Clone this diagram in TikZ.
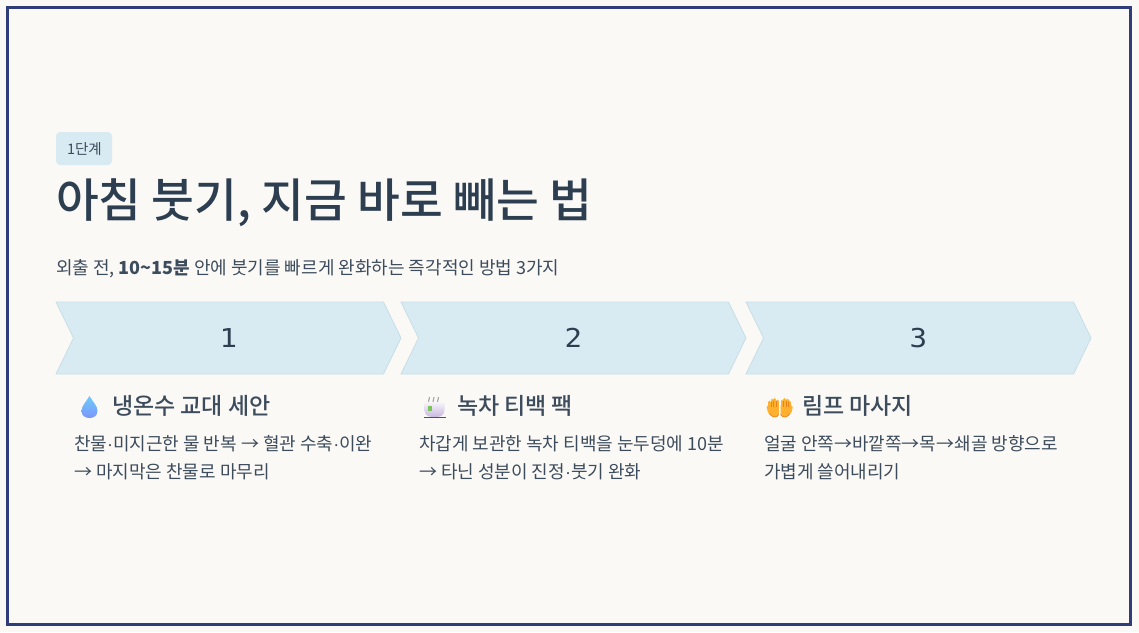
\documentclass[tikz,border=0pt]{standalone}
\usepackage{fontspec}
\setmainfont{Noto Sans CJK KR}
\newfontfamily\medfont{Noto Sans CJK KR Medium}
\newfontfamily\numfont[FakeStretch=1.12]{DejaVu Sans Mono}
\newfontfamily\dotfont{Liberation Sans}
\newcommand{\dt}{{\dotfont ·}}
\definecolor{pagebg}{HTML}{FBF9F6}
\definecolor{frameblue}{HTML}{2F3E78}
\definecolor{ink}{HTML}{2C3E50}
\definecolor{softink}{HTML}{3D4C5C}
\definecolor{paleblue}{HTML}{D9EBF2}
\definecolor{edgeblue}{HTML}{C6DEE6}
\definecolor{droptop}{HTML}{6CCBFA}
\definecolor{dropbot}{HTML}{7C96FB}
\definecolor{cuptop}{HTML}{F6F3FA}
\definecolor{cupbot}{HTML}{C9B8E0}
\definecolor{tagcol}{HTML}{7CC35C}
\definecolor{handfill}{HTML}{FFB02E}
\definecolor{handedge}{HTML}{E8841A}
\tikzset{
  txt/.style={anchor=base west,inner sep=0pt,outer sep=0pt,text=softink},
  chev/.style={fill=paleblue,draw=edgeblue,line width=0.8pt,line join=miter},
  numlabel/.style={anchor=center,inner sep=0pt,text=ink,font=\numfont\fontsize{26}{27}\selectfont},
  heading/.style={txt,text=softink,font=\fontsize{23}{27}\medfont\selectfont},
  desc/.style={txt,font=\fontsize{18}{22}\selectfont},
}
\begin{document}
\begin{tikzpicture}[x=1pt,y=-1pt]
\useasboundingbox (0,0) rectangle (1139,632);
\fill[pagebg] (0,0) rectangle (1139,632);
\draw[frameblue,line width=3pt] (7.5,7.5) rectangle (1130.5,624.5);
% badge
\fill[paleblue,rounded corners=4pt] (56,132) rectangle (112,165);
\node[txt,font=\fontsize{14.5}{17}\selectfont] (badge) at (67,154) {1단계};
\node[txt,text=ink,font=\fontsize{46.5}{52}\medfont\selectfont] (title) at (56,217.5) {아침 붓기, 지금 바로 빼는 법};
\node[txt,font=\fontsize{18}{22}\selectfont] (sub) at (56,274) {외출 전, \textbf{10\textasciitilde15분} 안에 붓기를 빠르게 완화하는 즉각적인 방법 3가지};
% chevrons
\draw[chev] (56,302) -- (383.5,302) -- (401,338) -- (383.5,374) -- (56,374) -- (73.5,338) -- cycle;
\draw[chev] (401,302) -- (728.5,302) -- (746,338) -- (728.5,374) -- (401,374) -- (418.5,338) -- cycle;
\draw[chev] (746,302) -- (1073.5,302) -- (1091,338) -- (1073.5,374) -- (746,374) -- (763.5,338) -- cycle;
\node[numlabel] (n1) at (228.5,338) {1};
\node[numlabel] (n2) at (573.5,338) {2};
\node[numlabel] (n3) at (918.5,338) {3};
% drop icon
\shade[top color=droptop,bottom color=dropbot]
  (89.5,396) .. controls (86,402) and (81.5,406) .. (81.5,411) .. controls (81.5,415.5) and (85,418) .. (89.5,418) .. controls (94,418) and (97.5,415.5) .. (97.5,411) .. controls (97.5,406) and (93,402) .. (89.5,396) -- cycle;
% tea icon
\fill[brown!60!black] (423.5,416.8) rectangle (446,418);
\shade[top color=cuptop,bottom color=cupbot] (424.5,402.5) -- (444.5,402.5) -- (444.5,410) .. controls (444.5,414.5) and (441,416.8) .. (438,416.8) -- (431,416.8) .. controls (428,416.8) and (424.5,414.5) .. (424.5,410) -- cycle;
\fill[tagcol] (427.5,406) rectangle (432,411);
\draw[gray!70,line width=1.1pt] (429.5,397) -- (428.5,402) (434,397) -- (433,402) (438.5,397) -- (437.5,402);
% hands icon
\foreach \sx in {1,-1}{
\begin{scope}[shift={(779.7,0)},xscale=\sx]
\draw[handfill,line width=2.9pt,line cap=round] (2.3,408) -- (2.3,401) (5,408) -- (5,399.5) (7.7,408) -- (7.7,400) (10.2,408) -- (10.2,402);
\fill[handfill] (0.9,405) -- (11.6,405) -- (11.6,410) .. controls (11.6,414) and (8,417) .. (5,417) .. controls (3,417) and (1.5,416) .. (0.9,414) -- cycle;
\draw[handfill,line width=2.6pt,line cap=round] (10.5,412) -- (11.8,407);
\draw[handedge,line width=0.4pt] (3.65,400.5) -- (3.65,406.5) (6.35,400.5) -- (6.35,406.5) (8.95,401.5) -- (8.95,406.5);
\draw[handedge,line width=0.7pt,line cap=round] (1,414.5) .. controls (2,416.4) and (3.5,417) .. (5,417) .. controls (7,417) and (9,415.5) .. (10.5,413.5);
\end{scope}}
% headings
\node[heading] (h1) at (112,414.5) {냉온수 교대 세안};
\node[heading] (h2) at (457,414.5) {녹차 티백 팩};
\node[heading] (h3) at (802,414.5) {림프 마사지};
% descriptions
\node[desc] (d1a) at (74,450.7) {찬물\dt 미지근한 물 반복 → 혈관 수축\dt 이완};
\node[desc] (d1b) at (74,478.7) {→ 마지막은 찬물로 마무리};
\node[desc] (d2a) at (419,450.7) {차갑게 보관한 녹차 티백을 눈두덩에 10분};
\node[desc] (d2b) at (419,478.7) {→ 타닌 성분이 진정\dt 붓기 완화};
\node[desc] (d3a) at (764,450.7) {얼굴 안쪽→바깥쪽→목→쇄골 방향으로};
\node[desc] (d3b) at (764,478.7) {가볍게 쓸어내리기};
\end{tikzpicture}
\end{document}
